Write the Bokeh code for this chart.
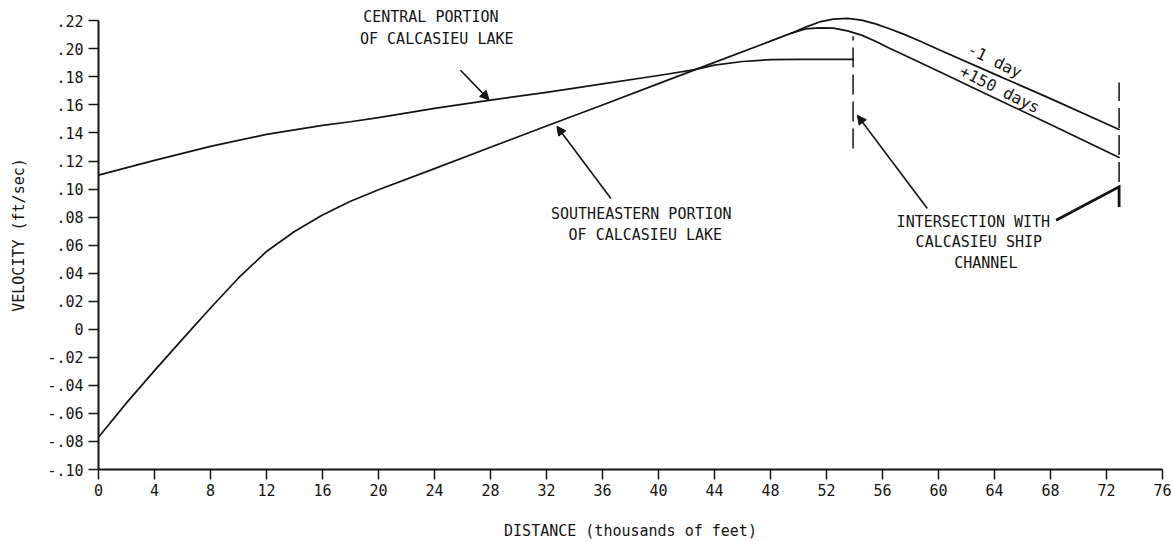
from bokeh.plotting import figure
from bokeh.models import FixedTicker, Label, Arrow, NormalHead, Range1d
from bokeh.embed import file_html
from bokeh.resources import INLINE

# Distance along the transect (thousands of feet) and velocity (ft/sec)
central_x = [0, 4, 8, 12, 16, 18, 20, 24, 28, 32, 36, 40, 42.5, 44, 46, 48, 50, 53.9]
central_v = [0.110, 0.1205, 0.1305, 0.139, 0.1455, 0.148, 0.151, 0.1575, 0.1635, 0.169,
             0.175, 0.181, 0.185, 0.1884, 0.191, 0.1923, 0.1925, 0.1925]

# Southeastern portion, common rising limb
southeast_x = [0, 2, 4, 6, 8, 10, 12, 14, 16, 18, 20, 24, 28, 32, 36, 40, 44, 48, 49.5]
southeast_v = [-0.077, -0.0525, -0.0295, -0.007, 0.0152, 0.0366, 0.0555, 0.0697, 0.0815,
               0.0913, 0.0995, 0.1146, 0.1298, 0.145, 0.160, 0.1752, 0.1904, 0.2055, 0.2112]

# Southeastern portion beyond the split: -1 day and +150 days
minus1_x = [49.5, 50.5, 51.5, 52.5, 53.5, 54.5, 55.5, 56.5, 57.5, 58.5, 60, 64, 68, 72.9]
minus1_v = [0.2112, 0.2155, 0.2192, 0.2212, 0.2217, 0.2205, 0.2178, 0.2143, 0.2105,
            0.2063, 0.1995, 0.182, 0.1645, 0.1425]
plus150_x = [49.5, 50.5, 51.5, 52.5, 53.5, 54.5, 55.5, 56.5, 57.5, 60, 64, 68, 72.9]
plus150_v = [0.2112, 0.2142, 0.2150, 0.2148, 0.2128, 0.2098, 0.2055, 0.2005, 0.1958,
             0.184, 0.165, 0.146, 0.1226]

# Where each profile meets the Calcasieu Ship Channel
channel_x = [53.9, 72.9]

x_ticks = [0, 4, 8, 12, 16, 20, 24, 28, 32, 36, 40, 44, 48, 52, 56, 60, 64, 68, 72, 76]
y_ticks = [-0.10, -0.08, -0.06, -0.04, -0.02, 0.0, 0.02, 0.04, 0.06, 0.08, 0.10,
           0.12, 0.14, 0.16, 0.18, 0.20, 0.22]
y_tick_labels = ["-.10", "-.08", "-.06", "-.04", "-.02", "0", ".02", ".04", ".06", ".08",
                 ".10", ".12", ".14", ".16", ".18", ".20", ".22"]

FONT = "DejaVu Sans Mono"
INK = "#141414"

p = figure(width=1172, height=542, output_backend="svg", toolbar_location=None,
           x_range=Range1d(0, 76), y_range=Range1d(-0.10, 0.2345),
           min_border_left=98, min_border_right=10, min_border_top=0, min_border_bottom=73,
           background_fill_color="white", border_fill_color="white")
p.outline_line_color = None
p.grid.visible = False

# Axes
for ax in (p.xaxis[0], p.yaxis[0]):
    ax.axis_line_width = 2
    ax.axis_line_color = INK
    ax.major_tick_line_color = INK
    ax.major_tick_line_width = 1.5
    ax.major_tick_out = 10
    ax.major_tick_in = 0
    ax.minor_tick_line_color = None
    ax.major_label_text_font = FONT
    ax.major_label_text_font_size = "15px"
    ax.major_label_text_color = INK
    ax.axis_label_text_font = FONT
    ax.axis_label_text_font_size = "15px"
    ax.axis_label_text_font_style = "normal"
    ax.axis_label_text_color = INK

p.xaxis.ticker = FixedTicker(ticks=x_ticks)
p.xaxis.bounds = (0, 76)
p.xaxis.major_label_standoff = 4
p.xaxis.axis_label = "DISTANCE (thousands of feet)"
p.xaxis.axis_label_standoff = 23

p.yaxis.ticker = FixedTicker(ticks=y_ticks)
p.yaxis.bounds = (-0.10, 0.22)
p.yaxis.major_label_overrides = dict(zip(y_ticks, y_tick_labels))
p.yaxis.major_label_standoff = 5
p.yaxis.axis_label = "VELOCITY (ft/sec)"
p.yaxis.axis_label_standoff = 16

# Velocity profiles
line_kw = dict(line_color=INK, line_width=1.7, line_join="round", line_cap="round")
p.line(central_x, central_v, **line_kw)
p.line(southeast_x, southeast_v, **line_kw)
p.line(minus1_x, minus1_v, **line_kw)
p.line(plus150_x, plus150_v, **line_kw)

# Ship channel crossings (dashed verticals)
p.segment(x0=[channel_x[0]], y0=[0.129], x1=[channel_x[0]], y1=[0.209],
          line_color=INK, line_width=1.5, line_dash="20 7")
p.segment(x0=[channel_x[1]], y0=[0.105], x1=[channel_x[1]], y1=[0.176],
          line_color=INK, line_width=1.5, line_dash="20 7")

# Leader to the far crossing
p.line([68.4, channel_x[1], channel_x[1]], [0.0778, 0.1016, 0.0873],
       line_color=INK, line_width=2.8, line_join="miter")


def note(text, x, y, angle=0.0, size="15px"):
    p.add_layout(Label(x=x, y=y, text=text, text_font=FONT, text_font_size=size,
                       text_color=INK, text_align="center", text_baseline="middle",
                       angle=angle))


def pointer(x0, y0, x1, y1):
    p.add_layout(Arrow(x_start=x0, y_start=y0, x_end=x1, y_end=y1,
                       line_color=INK, line_width=1.6,
                       end=NormalHead(size=9, fill_color=INK, line_color=INK)))


note("CENTRAL PORTION", 23.74, 0.2230)
note("OF CALCASIEU LAKE", 24.16, 0.2073)
pointer(25.86, 0.1848, 27.9, 0.1636)

note("SOUTHEASTERN PORTION", 38.77, 0.0821)
note("OF CALCASIEU LAKE", 39.06, 0.0671)
pointer(36.6, 0.0933, 32.74, 0.1448)

note("INTERSECTION WITH", 62.49, 0.0764)
note("CALCASIEU SHIP", 62.88, 0.0624)
note("CHANNEL", 63.38, 0.0471)
pointer(59.2, 0.0862, 54.2, 0.1527)

note("-1 day", 64.02, 0.1915, angle=-0.45, size="16px")
note("+150 days", 64.38, 0.1711, angle=-0.46, size="16px")

open("out.html", "w").write(file_html(p, INLINE))
